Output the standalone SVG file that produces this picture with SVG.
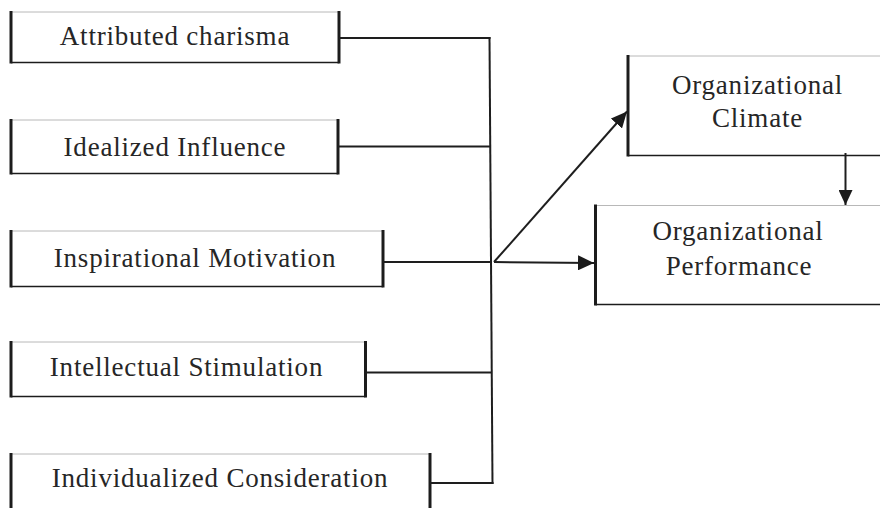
<svg xmlns="http://www.w3.org/2000/svg" width="880" height="508" viewBox="0 0 880 508">
<style>
.side{stroke:#1c1c1c;stroke-width:3;fill:none}
.top{stroke:#b8b8b8;stroke-width:1;fill:none}
.bot{stroke:#1c1c1c;stroke-width:1.6;fill:none}
.lbl{font-family:"Liberation Serif","Times New Roman",serif;font-size:27px;letter-spacing:0.8px;fill:#262626;text-anchor:middle}
.con{stroke:#1e1e1e;stroke-width:2;fill:none}
</style>
<defs>
<marker id="ah" markerUnits="userSpaceOnUse" markerWidth="16" markerHeight="15" refX="16" refY="7.5" orient="auto">
<path d="M0,0 L16,7.5 L0,15 z" fill="#1a1a1a"/>
</marker>
<marker id="ahs" markerUnits="userSpaceOnUse" markerWidth="15" markerHeight="14" refX="15" refY="7" orient="auto">
<path d="M0,0 L15,7 L0,14 z" fill="#1a1a1a"/>
</marker>
</defs>
<rect width="880" height="508" fill="#fff"/>

<g id="n1">
<line class="top" x1="11" y1="12" x2="339" y2="12"/>
<line class="bot" x1="11" y1="62.5" x2="339" y2="62.5"/>
<line class="side" x1="11" y1="11" x2="11" y2="63.5"/>
<line class="side" x1="339" y1="11" x2="339" y2="63.5"/>
<text class="lbl" x="175" y="45">Attributed charisma</text>
</g>

<g id="n2">
<line class="top" x1="11" y1="120" x2="338" y2="120"/>
<line class="bot" x1="11" y1="173.5" x2="338" y2="173.5"/>
<line class="side" x1="11" y1="119" x2="11" y2="174.5"/>
<line class="side" x1="338" y1="119" x2="338" y2="174.5"/>
<text class="lbl" x="175" y="155.5">Idealized Influence</text>
</g>

<g id="n3">
<line class="top" x1="11" y1="231" x2="383" y2="231"/>
<line class="bot" x1="11" y1="286.5" x2="383" y2="286.5"/>
<line class="side" x1="11" y1="230" x2="11" y2="287.5"/>
<line class="side" x1="383" y1="230" x2="383" y2="287.5"/>
<text class="lbl" x="195" y="267">Inspirational Motivation</text>
</g>

<g id="n4">
<line class="top" x1="11" y1="342" x2="365.5" y2="342"/>
<line class="bot" x1="11" y1="396.5" x2="365.5" y2="396.5"/>
<line class="side" x1="11" y1="341" x2="11" y2="397.5"/>
<line class="side" x1="365.5" y1="341" x2="365.5" y2="397.5"/>
<text class="lbl" x="186.5" y="376">Intellectual Stimulation</text>
</g>

<g id="n5">
<line class="top" x1="11" y1="454" x2="430" y2="454"/>
<line class="side" x1="11" y1="453" x2="11" y2="508"/>
<line class="side" x1="430" y1="453" x2="430" y2="508"/>
<text class="lbl" x="220" y="487">Individualized Consideration</text>
</g>

<g id="n6">
<line class="top" x1="628" y1="56" x2="880" y2="56"/>
<line class="bot" x1="628" y1="155.5" x2="880" y2="155.5"/>
<line class="side" x1="628" y1="55" x2="628" y2="156.5"/>
<text class="lbl" x="757.5" y="93.5">Organizational</text>
<text class="lbl" x="757.5" y="127">Climate</text>
</g>

<g id="n7">
<line class="top" x1="595.5" y1="205.5" x2="880" y2="205.5"/>
<line class="bot" x1="595.5" y1="304.5" x2="880" y2="304.5"/>
<line class="side" x1="595.5" y1="204.5" x2="595.5" y2="305.5"/>
<text class="lbl" x="738" y="240">Organizational</text>
<text class="lbl" x="739" y="275">Performance</text>
</g>

<g id="connectors">
<line class="con" x1="339" y1="38" x2="490.5" y2="38"/>
<line class="con" x1="338" y1="146.5" x2="490.5" y2="146.5"/>
<line class="con" x1="383" y1="262" x2="491" y2="262"/>
<line class="con" x1="365.5" y1="372.5" x2="492" y2="372.5"/>
<line class="con" x1="430" y1="483" x2="493.5" y2="483"/>
<line class="con" x1="489.5" y1="37" x2="492.5" y2="484"/>
<line class="con" x1="494" y1="262" x2="627" y2="111.5" marker-end="url(#ah)"/>
<line class="con" x1="494" y1="262" x2="594" y2="263" stroke-width="2.4" marker-end="url(#ah)"/>
<line class="con" x1="845.5" y1="153" x2="845.5" y2="205" stroke-width="1.6" marker-end="url(#ahs)"/>
</g>
</svg>
